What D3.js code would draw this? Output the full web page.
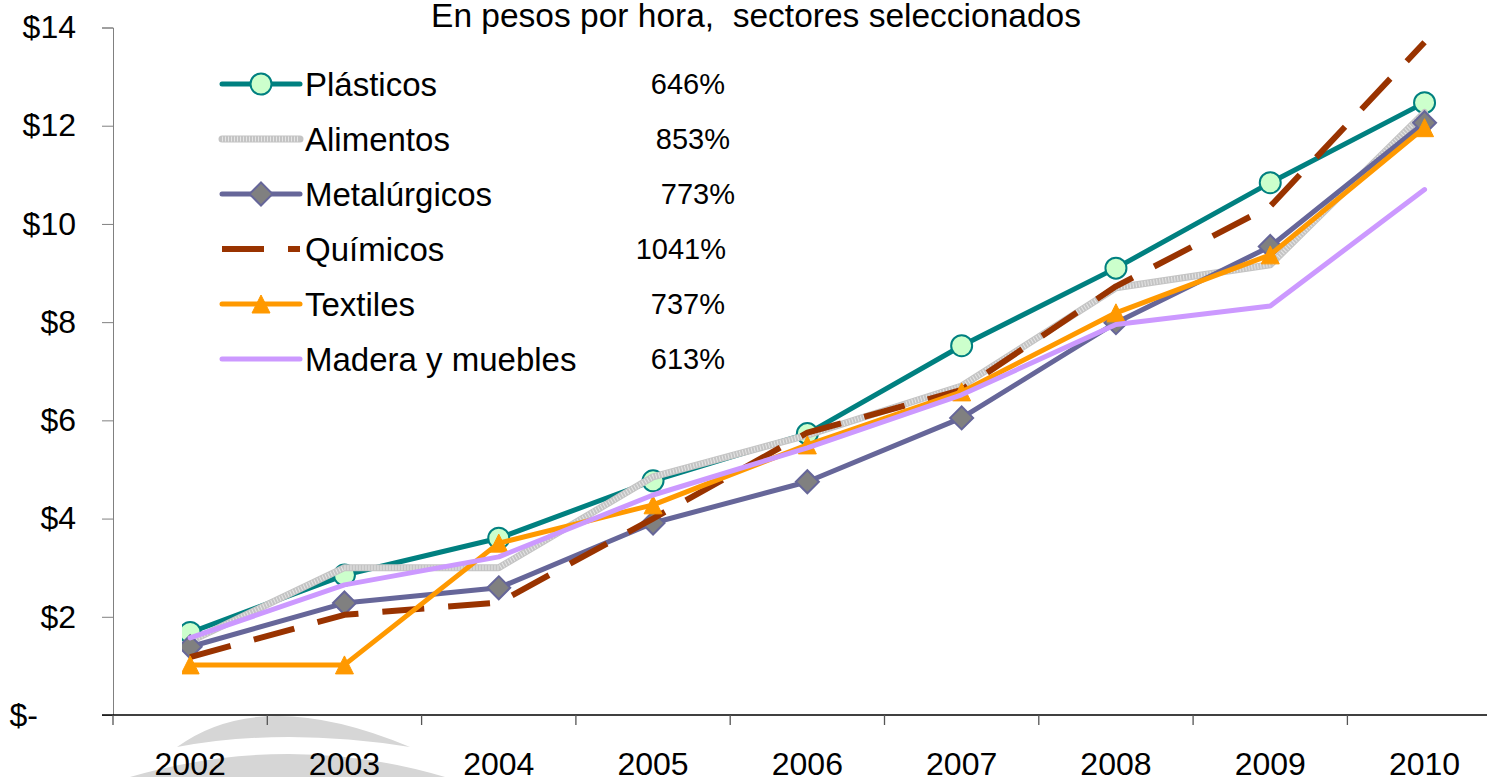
<!DOCTYPE html>
<html>
<head>
<meta charset="utf-8">
<script src="https://cdn.jsdelivr.net/npm/d3@7"></script>
<style>
  body { margin: 0; background: #fff; }
  svg { display: block; font-family: "Liberation Sans", Arial, sans-serif; }
</style>
</head>
<body>
<svg width="1487" height="777"></svg>
<script>

// data
let years = ['2002', '2003', '2004', '2005', '2006', '2007', '2008', '2009', '2010']
let plasticos    = [1.68, 2.85, 3.60, 4.77, 5.73, 7.52, 9.10, 10.84, 12.47]
let alimentos    = [1.50, 3.00, 3.00, 4.85, 5.70, 6.70, 8.70, 9.17, 12.27]
let metalurgicos = [1.39, 2.28, 2.59, 3.91, 4.75, 6.05, 7.99, 9.54, 12.06]
let quimicos     = [1.18, 2.04, 2.29, 4.00, 5.75, 6.62, 8.73, 10.36, 13.70]
let textiles     = [1.02, 1.02, 3.50, 4.28, 5.50, 6.58, 8.19, 9.37, 11.96]
let madera       = [1.57, 2.65, 3.22, 4.48, 5.44, 6.52, 7.95, 8.33, 10.70]

let seriesNames = ['Plásticos', 'Alimentos', 'Metalúrgicos', 'Químicos', 'Textiles', 'Madera y muebles']
let growthLabels = ['646%', '853%', '773%', '1041%', '737%', '613%']
let yTicks = [0, 2, 4, 6, 8, 10, 12, 14]
let title = 'En pesos por hora,  sectores seleccionados'

let series = [
  { name: seriesNames[0], values: plasticos,    color: '#008080', width: 5, marker: 'circle' },
  { name: seriesNames[1], values: alimentos,    color: '#c4c4c4', width: 7, marker: null, texture: true },
  { name: seriesNames[2], values: metalurgicos, color: '#666699', width: 5, marker: 'diamond' },
  { name: seriesNames[3], values: quimicos,     color: '#993300', width: 6, marker: null, dash: '42,24' },
  { name: seriesNames[4], values: textiles,     color: '#ff9900', width: 5, marker: 'triangle' },
  { name: seriesNames[5], values: madera,       color: '#cc99ff', width: 5, marker: null }
]

let svg = d3.select('svg')

let left = 113, step = 154.3
let x = d3.scalePoint().domain(years).range([left, left + step * years.length]).padding(0.5)
let y = d3.scaleLinear().domain([0, 14]).range([715, 27.5])

// faint watermark under the years
svg.append('path')
  .attr('d', 'M177,747 Q262,685 410,747 Q285,727 177,747 Z')
  .attr('fill', '#d6d6d6')
svg.append('path')
  .attr('d', 'M130,777 Q290,731 445,777 Z')
  .attr('fill', '#d6d6d6')

// title
svg.append('text')
  .attr('x', 756).attr('y', 27)
  .attr('text-anchor', 'middle')
  .attr('font-size', 33.5)
  .style('white-space', 'pre')
  .text(title)

// y axis
let yAxis = svg.append('g')
  .attr('transform', `translate(${left},0)`)
  .call(d3.axisLeft(y).tickValues(yTicks).tickSize(11).tickPadding(26)
    .tickFormat(d => d === 0 ? '$-' : '$' + d))
yAxis.select('.domain').attr('stroke', '#808080')
yAxis.selectAll('.tick line').attr('stroke', '#808080')
yAxis.selectAll('.tick text').attr('font-size', 32).attr('fill', '#000')
  .attr('font-family', '"Liberation Sans", Arial, sans-serif')
yAxis.selectAll('.tick text').filter(d => d === 0).attr('x', -75)

// x axis line and ticks at category boundaries
svg.append('line')
  .attr('x1', left - 11).attr('x2', 1487)
  .attr('y1', y(0)).attr('y2', y(0))
  .attr('stroke', '#000').attr('stroke-width', 1.3)

svg.append('g').selectAll('line')
  .data(d3.range(years.length + 1))
  .enter().append('line')
  .attr('x1', i => left + i * step).attr('x2', i => left + i * step)
  .attr('y1', y(0)).attr('y2', y(0) + 10)
  .attr('stroke', '#555').attr('stroke-width', 1.3)

svg.append('g').selectAll('text')
  .data(years)
  .enter().append('text')
  .attr('x', d => x(d))
  .attr('y', 775)
  .attr('text-anchor', 'middle')
  .attr('font-size', 32)
  .text(d => d)

// series
svg.append('clipPath').attr('id', 'plot')
  .append('rect').attr('x', 182).attr('y', 0).attr('width', 1400).attr('height', 740)

let line = d3.line()
  .x((d, i) => x(years[i]))
  .y(d => y(d))

function drawMarker(g, type, cx, cy, s) {
  if (type === 'circle') {
    g.append('circle').attr('cx', cx).attr('cy', cy).attr('r', 10.5)
      .attr('fill', '#ccffcc').attr('stroke', s.color).attr('stroke-width', 2)
  } else if (type === 'diamond') {
    let r = 11.5
    g.append('path')
      .attr('d', `M${cx},${cy - r}L${cx + r},${cy}L${cx},${cy + r}L${cx - r},${cy}Z`)
      .attr('fill', '#808080').attr('stroke', s.color).attr('stroke-width', 2)
  } else if (type === 'triangle') {
    let h = 9
    g.append('path')
      .attr('d', `M${cx},${cy - h}L${cx + h},${cy + h}L${cx - h},${cy + h}Z`)
      .attr('fill', s.color).attr('stroke', s.color).attr('stroke-width', 1)
  }
}

let plot = svg.append('g').attr('clip-path', 'url(#plot)')

series.forEach(s => {
  let g = plot.append('g')
  g.append('path')
    .attr('d', line(s.values))
    .attr('fill', 'none')
    .attr('stroke', s.color)
    .attr('stroke-width', s.width)
    .attr('stroke-linejoin', 'round')
    .attr('stroke-linecap', s.dash ? 'butt' : 'round')
    .attr('stroke-dasharray', s.dash || null)
  if (s.texture) {
    g.append('path')
      .attr('d', line(s.values))
      .attr('fill', 'none')
      .attr('stroke', '#e6e6e6')
      .attr('stroke-width', s.width - 2)
      .attr('stroke-dasharray', '1,2')
  }
  if (s.marker) {
    s.values.forEach((v, i) => drawMarker(g, s.marker, x(years[i]), y(v), s))
  }
})

// legend
let legendEnds = [725, 730, 735, 726, 725, 725]
let legend = svg.append('g')

series.forEach((s, i) => {
  let ry = 84 + i * 55
  let g = legend.append('g')
  g.append('line')
    .attr('x1', 222).attr('x2', 300)
    .attr('y1', ry).attr('y2', ry)
    .attr('stroke', s.color)
    .attr('stroke-width', s.width)
    .attr('stroke-linecap', s.dash ? 'butt' : 'round')
    .attr('stroke-dasharray', s.dash || null)
  if (s.texture) {
    g.append('line')
      .attr('x1', 222).attr('x2', 300)
      .attr('y1', ry).attr('y2', ry)
      .attr('stroke', '#e6e6e6')
      .attr('stroke-width', s.width - 2)
      .attr('stroke-dasharray', '1,2')
  }
  if (s.marker) drawMarker(g, s.marker, 261, ry, s)

  g.append('text')
    .attr('x', 305).attr('y', ry + 12)
    .attr('font-size', 33)
    .text(s.name)

  g.append('text')
    .attr('x', legendEnds[i]).attr('y', ry + 10)
    .attr('text-anchor', 'end')
    .attr('font-size', 29)
    .text(growthLabels[i])
})

</script>
</body>
</html>
